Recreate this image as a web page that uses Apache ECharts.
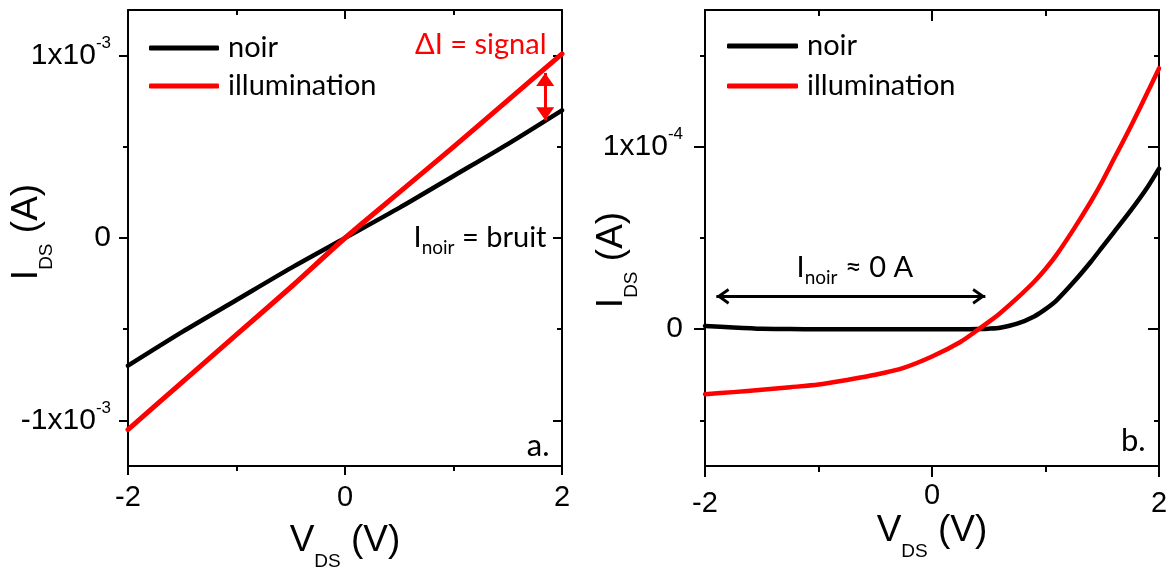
<!DOCTYPE html>
<html>
<head>
<meta charset="utf-8">
<script src="https://cdn.jsdelivr.net/npm/echarts@6/dist/echarts.min.js"></script>
<style>
  html, body { margin: 0; padding: 0; background: #fff; }
  #chart { width: 1169px; height: 570px; }
</style>
</head>
<body>
<div id="chart"></div>
<script>
// panel a : I_DS(V_DS) dans le noir / sous illumination
const vA = [-2, -1.5, -1, -0.5, 0, 0.5, 1, 1.5, 2];
const noirA = [-0.70e-3, -0.515e-3, -0.34e-3, -0.165e-3, 0, 0.165e-3, 0.34e-3, 0.515e-3, 0.70e-3];
const illumA = [-1.05e-3, -0.79e-3, -0.53e-3, -0.27e-3, 0, 0.25e-3, 0.50e-3, 0.755e-3, 1.01e-3];

// panel b
const vB = [-2, -1.75, -1.5, -1.25, -1, -0.75, -0.5, -0.25, 0, 0.25, 0.4, 0.5, 0.6, 0.75, 0.9, 1, 1.1, 1.25, 1.4, 1.5, 1.6, 1.75, 1.9, 2];
const noirB = [0.018e-4, 0.009e-4, 0.002e-4, 0.001e-4, 0, 0, 0, 0, 0, 0, 0.001e-4, 0.003e-4, 0.008e-4, 0.03e-4, 0.07e-4, 0.11e-4, 0.16e-4, 0.26e-4, 0.37e-4, 0.45e-4, 0.53e-4, 0.65e-4, 0.78e-4, 0.88e-4];
const illumB = [-0.356e-4, -0.345e-4, -0.332e-4, -0.318e-4, -0.303e-4, -0.278e-4, -0.25e-4, -0.212e-4, -0.15e-4, -0.07e-4, -0.005e-4, 0.04e-4, 0.088e-4, 0.17e-4, 0.26e-4, 0.33e-4, 0.41e-4, 0.55e-4, 0.70e-4, 0.81e-4, 0.93e-4, 1.11e-4, 1.30e-4, 1.43e-4];

// ticks / labels
const xTicks = [-2, 0, 2];
const xMinor = [-1, 1];
const xLabelsA = ['-2', '0', '2'];
const xLabelsB = ['{lo|-2}', '0', '{lo|2}'];
const yTicksA = [-1e-3, 0, 1e-3];
const yMinorA = [-0.5e-3, 0.5e-3];
const yLabelsA = ['-1x10{sup|-3}', '0', '1x10{sup|-3}'];
const yTicksB = [0, 1e-4];
const yMinorB = [-0.5e-4, 0.5e-4, 1.5e-4];
const yLabelsB = ['0', '1x10{sup|-4}'];

// annotations (data coords)
const arrowA = [[1.845, 0.905e-3], [1.845, 0.645e-3]];
const arrowB = [[-1.9, 0.18e-4], [0.47, 0.18e-4]];

const AX = 'Liberation Sans';
const TXT = 'Lato';

const pairs = (xs, ys) => xs.map((x, i) => [x, ys[i]]);
const nearest = (arr, v) => {
  let best = 0;
  arr.forEach((a, i) => { if (Math.abs(a - v) < Math.abs(arr[best] - v)) best = i; });
  return best;
};

// 4 axes per side: main (labels + major ticks), minor ticks, mirror, mirror minor
function makeAxes(dim, grid, min, max, ticks, minor, labels, opt) {
  const side = dim === 'x' ? ['bottom', 'top'] : ['left', 'right'];
  const line = { show: true, onZero: false, lineStyle: { color: '#000', width: 2 } };
  const noLine = { show: false, onZero: false };
  const tick = (vals, len, inside) => ({
    show: true, customValues: vals, length: len, inside: inside,
    lineStyle: { color: '#000', width: 2 }
  });
  const base = { type: 'value', gridIndex: grid, min: min, max: max, splitLine: { show: false } };
  const off = { show: false };
  return [
    Object.assign({}, base, {
      position: side[0], axisLine: line, axisTick: tick(ticks, opt.major, false),
      axisLabel: {
        show: true, customValues: ticks, margin: opt.margin, color: '#000',
        fontFamily: AX, fontSize: opt.labelSize,
        formatter: v => labels[nearest(ticks, v)],
        rich: opt.rich || {}
      },
      name: opt.name, nameLocation: 'middle', nameGap: opt.nameGap, nameMoveOverlap: false,
      nameTextStyle: {
        fontFamily: AX, fontSize: 37, color: '#000', padding: opt.namePad || 0,
        rich: { sub: { fontFamily: AX, fontSize: 19, color: '#000', padding: [opt.subDrop, 0, 0, 0] } }
      }
    }),
    Object.assign({}, base, { position: side[0], axisLine: noLine, axisTick: tick(minor, opt.minor, false), axisLabel: off }),
    Object.assign({}, base, { position: side[1], axisLine: line, axisTick: tick(ticks, opt.major, true), axisLabel: off }),
    Object.assign({}, base, { position: side[1], axisLine: noLine, axisTick: tick(minor, opt.minor, true), axisLabel: off })
  ];
}

const supRich = { sup: { fontFamily: AX, fontSize: 17, color: '#000', padding: [0, 0, 24, 0] } };
const loRich = { lo: { fontFamily: AX, fontSize: 29, color: '#000', padding: [8, 0, 0, 0] } };
const subTxt = (c) => ({ sub: { fontFamily: TXT, fontSize: 19, color: c, padding: [20, 0, 0, 0] } });

const xAxes = [].concat(
  makeAxes('x', 0, -2, 2, xTicks, xMinor, xLabelsA,
    { major: 9, minor: 5, margin: 17, labelSize: 29, name: 'V{sub|DS} (V)', nameGap: 44, subDrop: 42 }),
  makeAxes('x', 1, -2, 2, xTicks, xMinor, xLabelsB,
    { major: 11, minor: 6, margin: 15, labelSize: 29, rich: loRich, name: 'V{sub|DS} (V)', nameGap: 34, subDrop: 42 })
);
const yAxes = [].concat(
  makeAxes('y', 0, -1.25e-3, 1.25e-3, yTicksA, yMinorA, yLabelsA,
    { major: 9, minor: 5, margin: 17, labelSize: 30, rich: supRich, name: 'I{sub|DS} (A)', nameGap: 72, subDrop: 40, namePad: [0, 0, 0, 12] }),
  makeAxes('y', 1, -0.75e-4, 1.75e-4, yTicksB, yMinorB, yLabelsB,
    { major: 11, minor: 5, margin: 22, labelSize: 30, rich: supRich, name: 'I{sub|DS} (A)', nameGap: 64, subDrop: 40, namePad: [0, 44, 0, 0] })
);

function notes(items) {
  return {
    symbol: 'circle', symbolSize: 1, itemStyle: { color: 'rgba(0,0,0,0)' },
    silent: true, animation: false,
    data: items.map(n => ({
      coord: n.coord, value: 0,
      label: Object.assign({
        show: true, position: 'inside', formatter: n.text,
        fontFamily: TXT, fontSize: 29, color: n.color || '#000'
      }, n.style || {})
    }))
  };
}

// head pointing up, tip at the centre of the symbol box
const triHead = 'path://M-22,-100 M122,100 M50,0 L100,100 L0,100 Z';
const openHead = 'path://M-30,-100 M130,100 M50,0 L100,88 L84,100 L50,40 L16,100 L0,88 Z';

const lineSeries = (name, data, color, width, xi, yi, extra) => Object.assign({
  name: name, type: 'line', data: data, xAxisIndex: xi, yAxisIndex: yi,
  symbol: 'none', smooth: 0.25,
  lineStyle: { color: color, width: width, cap: 'round', join: 'round' },
  itemStyle: { color: color }, z: color === '#ff0000' ? 3 : 2
}, extra || {});

const legendStyle = { fontFamily: TXT, fontSize: 29, color: '#000', lineHeight: 30, padding: [0, 0, 0, 4] };

const option = {
  animation: false,
  backgroundColor: '#fff',
  grid: [
    { left: 128, top: 10, width: 434, height: 456, outerBoundsMode: 'none' },
    { left: 705, top: 10, width: 454, height: 456, outerBoundsMode: 'none' }
  ],
  xAxis: xAxes,
  yAxis: yAxes,
  legend: [
    {
      left: 149, top: 33, padding: 0, orient: 'vertical', itemWidth: 70, itemHeight: 5, itemGap: 8,
      icon: 'roundRect', selectedMode: false, data: ['noir', 'illumination'], textStyle: legendStyle
    },
    {
      left: 727, top: 31, padding: 0, orient: 'vertical', itemWidth: 71, itemHeight: 5, itemGap: 10,
      icon: 'roundRect', selectedMode: false, data: ['noir', 'illumination'], textStyle: legendStyle
    }
  ],
  series: [
    lineSeries('noir', pairs(vA, noirA), '#000', 4.5, 0, 0, {
      markPoint: notes([
        { coord: [1.857, 0], text: 'I{sub|noir} = bruit', style: { align: 'right', rich: subTxt('#000') } },
        { coord: [1.885, -1.142e-3], text: 'a.', style: { align: 'right', fontSize: 31 } }
      ])
    }),
    lineSeries('illumination', pairs(vA, illumA), '#ff0000', 5, 0, 0, {
      markPoint: notes([
        { coord: [1.857, 1.06e-3], text: 'ΔI = signal', color: '#ff0000', style: { align: 'right' } }
      ]),
      markLine: {
        silent: true, animation: false, symbol: [triHead, triHead], symbolSize: 26,
        label: { show: false }, lineStyle: { color: '#ff0000', width: 3, type: 'solid' },
        data: [[{ coord: arrowA[0] }, { coord: arrowA[1] }]]
      }
    }),
    lineSeries('noir', pairs(vB, noirB), '#000', 4.5, 4, 4, {
      markPoint: notes([
        { coord: [-0.68, 0.338e-4], text: 'I{sub|noir} ≈ 0 A', style: { align: 'center', rich: subTxt('#000') } },
        { coord: [1.882, -0.612e-4], text: 'b.', style: { align: 'right', fontSize: 31 } }
      ]),
      markLine: {
        silent: true, animation: false, symbol: [openHead, openHead], symbolSize: 26,
        label: { show: false }, lineStyle: { color: '#000', width: 3, type: 'solid' },
        data: [[{ coord: arrowB[0] }, { coord: arrowB[1] }]]
      }
    }),
    lineSeries('illumination', pairs(vB, illumB), '#ff0000', 4.5, 4, 4)
  ]
};

const myChart = echarts.init(document.getElementById('chart'), null, { renderer: 'canvas' });
myChart.setOption(option);
window.addEventListener('resize', () => { myChart.resize(); });
</script>
</body>
</html>
